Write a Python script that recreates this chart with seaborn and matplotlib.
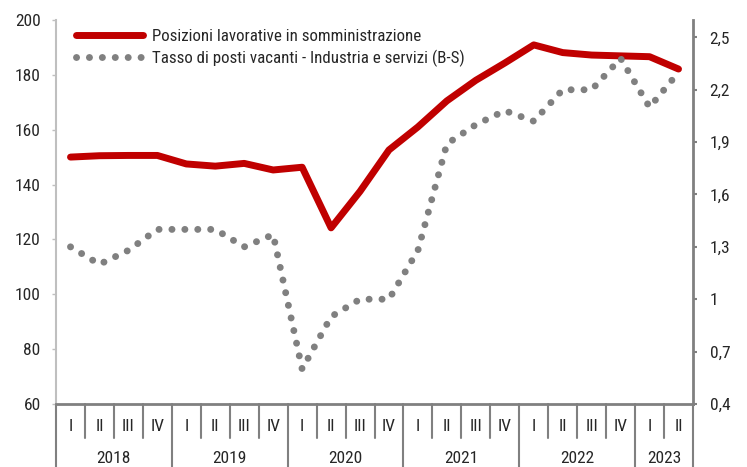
"""
Somministrazione vs tasso di posti vacanti: quarterly line chart on two y axes.
"""
import matplotlib
matplotlib.use("Agg")
import matplotlib.pyplot as plt
import seaborn as sns
import numpy as np
import pandas as pd
from matplotlib.ticker import FuncFormatter

# === Data (quarterly, 2018 Q1 - 2023 Q2)
years = ["2018", "2019", "2020", "2021", "2022", "2023"]
quarter_names = ["I", "II", "III", "IV"]
n_quarters_last = 2

somministrazione = [150.0, 150.5, 150.6, 150.6, 147.5, 146.7, 147.7, 145.3,
                    146.3, 124.2, 137.5, 152.6, 161.0, 170.5, 178.0, 184.3,
                    190.9, 188.1, 187.2, 186.9, 186.6, 182.1]
posti_vacanti = [1.30, 1.20, 1.28, 1.40, 1.40, 1.40, 1.30, 1.37,
                 0.60, 0.90, 1.00, 1.00, 1.28, 1.89, 2.00, 2.08,
                 2.02, 2.20, 2.20, 2.38, 2.10, 2.30]

label_red = "Posizioni lavorative in somministrazione"
label_gray = "Tasso di posti vacanti - Industria e servizi (B-S)"

# build long labels
quarters, year_of = [], []
for y in years:
    nq = n_quarters_last if y == years[-1] else 4
    quarters += quarter_names[:nq]
    year_of += [y] * nq

df = pd.DataFrame({"pos": np.arange(len(quarters)), "quarter": quarters,
                   "year": year_of, "somm": somministrazione,
                   "vac": posti_vacanti})
n = len(df)

# === Style
RED = "#C00000"
GRAY = "#808080"
TEXT = "#262626"
FS = 12.5
LEG_FS = 12.2

sns.set_style("white")
plt.rcParams["font.family"] = ["Roboto Condensed", "Archivo Narrow", "Liberation Sans", "DejaVu Sans"]

fig = plt.figure(figsize=(7.47, 4.67), dpi=100)
ax = fig.add_axes([0.075, 0.135, 0.8527, 0.8223])

sns.lineplot(data=df, x="pos", y="somm", ax=ax, color=RED, lw=5,
             solid_joinstyle="round", solid_capstyle="round", label=label_red,
             legend=False)
ax2 = ax.twinx()
sns.lineplot(data=df, x="pos", y="vac", ax=ax2, color=GRAY, lw=5,
             linestyle=(0, (0.01, 1.85)), dash_capstyle="round",
             label=label_gray, legend=False)

ax.set_xlim(-0.5, n - 0.5)
ax.set_ylim(60, 200)
ax.set_yticks(np.arange(60, 201, 20))
ax2.set_ylim(0.4, 2.6)
ax2.set_yticks(np.arange(0.4, 2.51, 0.3))
ax2.yaxis.set_major_formatter(FuncFormatter(lambda v, p: f"{v:.1f}".rstrip("0").rstrip(".").replace(".", ",")))

for a in (ax, ax2):
    a.set_xlabel("")
    a.set_ylabel("")
    a.spines["top"].set_visible(False)
ax.spines["right"].set_visible(False)
ax2.spines["left"].set_visible(False)
ax2.spines["bottom"].set_visible(False)
ax.spines["left"].set_color("#BFBFBF")
ax.spines["left"].set_linewidth(1.5)
ax.spines["bottom"].set_color(GRAY)
ax.spines["bottom"].set_linewidth(2)
ax2.spines["right"].set_color(GRAY)
ax2.spines["right"].set_linewidth(2)

ax.tick_params(axis="y", length=3, width=1, color="#BFBFBF", pad=8,
               labelsize=FS, labelcolor=TEXT)
ax2.tick_params(axis="y", length=3, width=1.5, color=GRAY, pad=9,
                labelsize=FS, labelcolor=TEXT)
ax.set_xticks([])

# === Two-level category axis
tr = ax.get_xaxis_transform()
for i in range(n + 1):
    long = i == 0 or i == n or df["quarter"].iloc[i] == "I"
    ax.plot([i - 0.5, i - 0.5], [0, -0.17 if long else -0.089], transform=tr,
            clip_on=False, color=GRAY, lw=1.5)
for i, q in enumerate(df["quarter"]):
    ax.text(i, -0.06, q, transform=tr, ha="center", va="center",
            fontsize=FS, color=TEXT)
for y, grp in df.groupby("year"):
    ax.text(grp["pos"].mean(), -0.141, y, transform=tr, ha="center",
            va="center", fontsize=FS, color=TEXT)

# === Legend
handles = [ax.get_lines()[0], ax2.get_lines()[0]]
ax2.legend(handles, [label_red, label_gray], loc="upper left",
           bbox_to_anchor=(0.032, 0.976), frameon=False, fontsize=LEG_FS,
           handlelength=3.95, handletextpad=0.5, labelspacing=0.3,
           borderpad=0, borderaxespad=0, labelcolor=TEXT)

plt.savefig("out.png", dpi=100)
plt.close()
